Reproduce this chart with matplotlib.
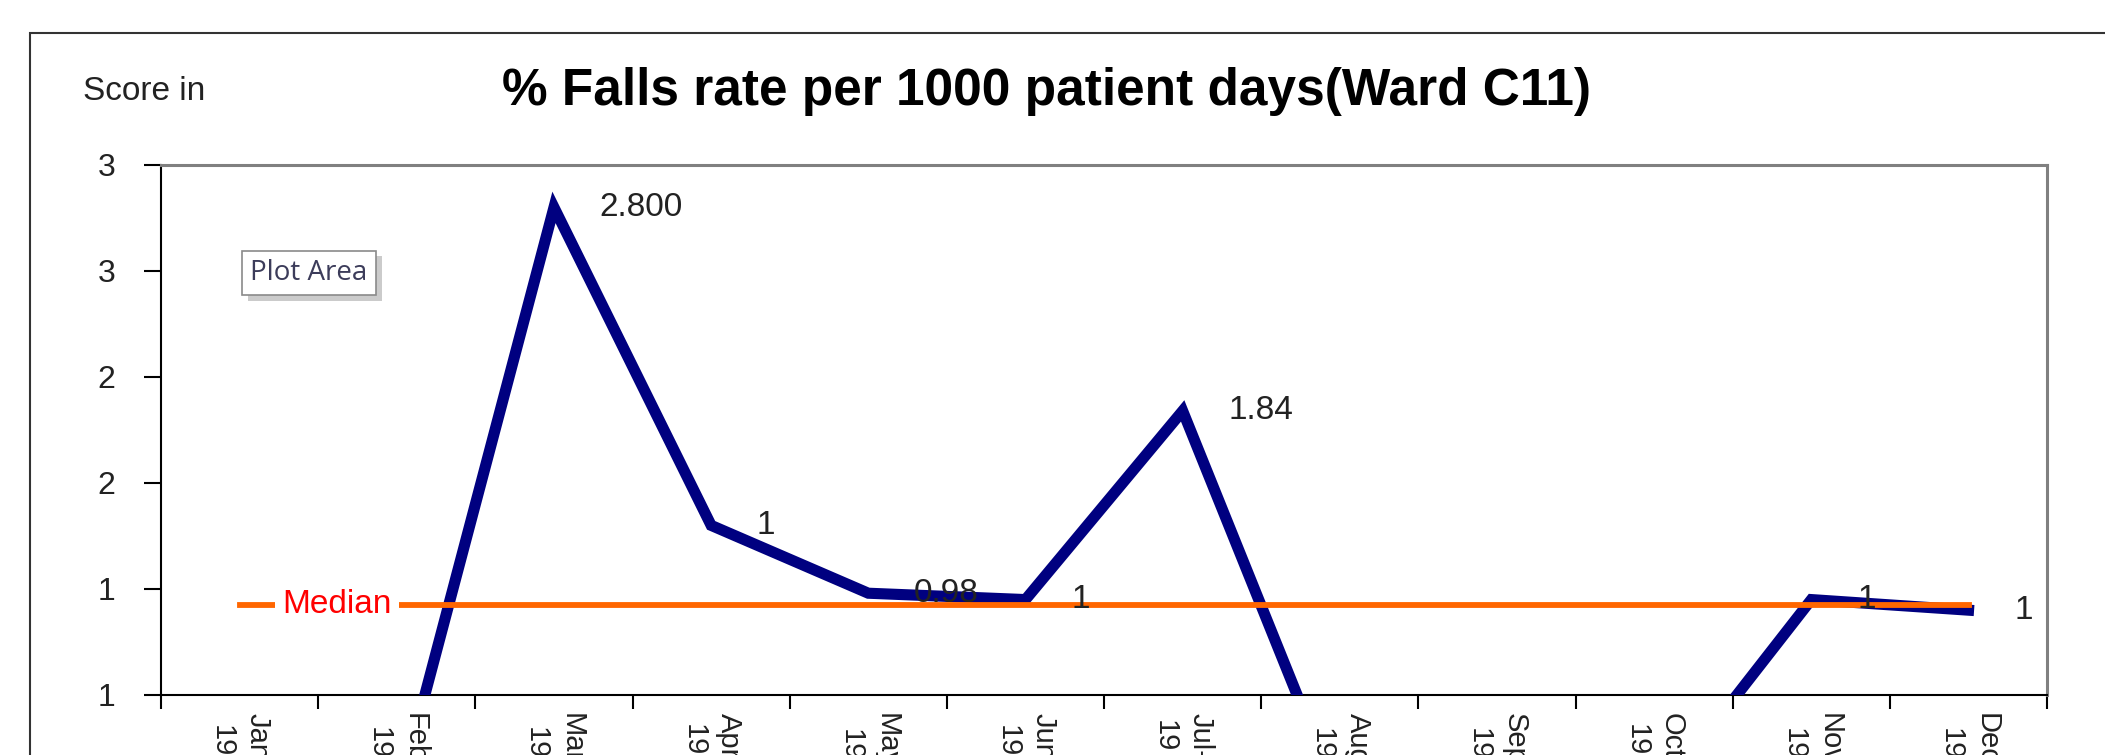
import matplotlib.pyplot as plt
import matplotlib.ticker as mticker
import matplotlib.patheffects as pe
from matplotlib.patches import Rectangle
import numpy as np

months = ['Jan', 'Feb', 'Mar', 'Apr', 'May', 'Jun', 'Jul', 'Aug', 'Sep', 'Oct', 'Nov', 'Dec']
year = '19'
falls_rate = [0, 0, 2.80, 1.30, 0.98, 0.95, 1.84, 0, 0, 0, 0.95, 0.90]
point_labels = ['', '', '2.800', '1', '0.98', '1', '1.84', '', '', '', '1', '1']

median = np.median(falls_rate)

plt.rcParams['font.family'] = ['Liberation Sans', 'DejaVu Sans']

fig = plt.figure(figsize=(21.05, 7.55), dpi=100)
ax = fig.add_axes([0.0765, 0.0795, 0.896, 0.702])

x = np.arange(len(months))
ax.plot(x, falls_rate, color='#000080', lw=8, solid_joinstyle='miter', zorder=3)
ax.plot(x, [median] * len(x), color='#FF6600', lw=4.2, zorder=4)

for xi, yi, lab in zip(x, falls_rate, point_labels):
    if lab:
        ax.annotate(lab, (xi, yi), xytext=(33, 0), textcoords='offset points',
                    ha='left', va='center', fontsize=24, color='#222222', zorder=5)

ax.text(0.62, median, 'Median', color='#FF0000', fontsize=24, ha='center', va='center',
        bbox=dict(facecolor='white', edgecolor='none', pad=5), zorder=5)

ax.set_xlim(-0.5, len(months) - 0.5)
ax.set_ylim(0.5, 3.0)
ax.yaxis.set_major_locator(mticker.MultipleLocator(0.5))
ax.yaxis.set_major_formatter(mticker.FuncFormatter(lambda v, p: str(int(np.floor(v + 0.5)))))
ax.tick_params(axis='y', direction='out', length=12, width=1.5, pad=21, labelsize=23,
               labelcolor='#222222')

ax.set_xticks(x)
ax.set_xticklabels([m + '-\n' + year for m in months], rotation=270, fontsize=21,
                   linespacing=1.35, color='#222222')
ax.set_xticks(np.arange(len(months) + 1) - 0.5, minor=True)
ax.tick_params(axis='x', which='major', length=0, pad=13)
ax.tick_params(axis='x', which='minor', direction='out', length=10, width=1.5)

ax.spines['left'].set_color('black')
ax.spines['bottom'].set_color('black')
ax.spines['left'].set_linewidth(1.5)
ax.spines['bottom'].set_linewidth(1.5)
for s in ['top', 'right']:
    ax.spines[s].set_color('#808080')
    ax.spines[s].set_linewidth(2.2)

fig.text(0.497, 0.879, '% Falls rate per 1000 patient days(Ward C11)', fontsize=37,
         fontweight='bold', ha='center', va='center')
fig.text(0.0394, 0.879, 'Score in', fontsize=24, ha='left', va='center', color='#222222')

tip = fig.text(0.1468, 0.6384, 'Plot Area', fontsize=20, color='#3c3c5a', ha='center',
               va='center', family=['Open Sans', 'DejaVu Sans'],
               bbox=dict(facecolor='white', edgecolor='#8a8a8a', boxstyle='square,pad=0.3', lw=1.2))
tip.get_bbox_patch().set_path_effects([
    pe.SimplePatchShadow(offset=(4, -4), shadow_rgbFace='#999999', alpha=0.5), pe.Normal()])

fig.patches.append(Rectangle((0.01425, -0.1), 1.2, 0.9563 + 0.1, transform=fig.transFigure,
                             fill=False, edgecolor='#333333', lw=1.5))

fig.savefig('out.png', dpi=100)
